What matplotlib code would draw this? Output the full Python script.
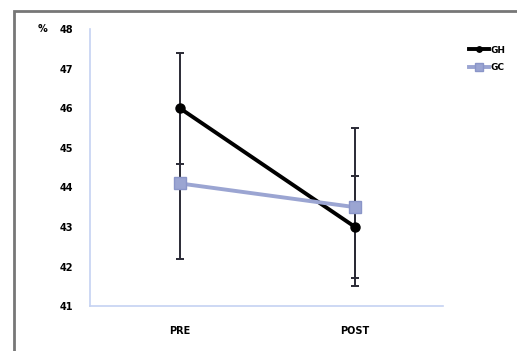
import matplotlib.pyplot as plt
from matplotlib.patches import Rectangle

# data
moments = ["PRE", "POST"]
gh_mean = [46.0, 43.0]
gh_sd = [1.4, 1.3]
gc_mean = [44.1, 43.5]
gc_sd = [1.9, 2.0]
y_ticks = [41, 42, 43, 44, 45, 46, 47, 48]

fig = plt.figure(figsize=(5.17, 3.51), dpi=100)
ax = fig.add_axes([0.174, 0.128, 0.683, 0.789])

x = list(range(len(moments)))

# error bars (dark, thin) under the lines
ax.errorbar(x, gc_mean, yerr=gc_sd, fmt="none", ecolor="#2a2a35",
            elinewidth=1.4, capsize=3, capthick=1.4, zorder=2)
ax.errorbar(x, gh_mean, yerr=gh_sd, fmt="none", ecolor="#2a2a35",
            elinewidth=1.4, capsize=3, capthick=1.4, zorder=2)

ax.plot(x, gh_mean, color="black", lw=2.8, marker="o", ms=6.5, label="GH", zorder=3)
ax.plot(x, gc_mean, color="#9ba5d2", lw=2.8, marker="s", ms=8.5,
        mec="#8a95c8", label="GC", zorder=4)

ax.set_xlim(-0.514, 1.503)
ax.set_ylim(41, 48)
ax.set_yticks(y_ticks)
ax.set_xticks(x)
ax.set_xticklabels(moments, fontsize=7, fontweight="bold")
ax.set_yticklabels([str(t) for t in y_ticks], fontsize=7, fontweight="bold")
ax.tick_params(length=0, pad=12)
ax.tick_params(axis="x", pad=14)

for s in ["top", "right"]:
    ax.spines[s].set_visible(False)
for s in ["left", "bottom"]:
    ax.spines[s].set_color("#c5d2f2")
    ax.spines[s].set_linewidth(1.2)

fig.text(0.073, 0.918, "%", fontsize=7, fontweight="bold", va="center")

leg = ax.legend(loc="upper left", bbox_to_anchor=(1.05, 0.97), frameon=False,
                fontsize=6.5, handlelength=2.2, labelspacing=0.9,
                handletextpad=0.2, markerscale=0.6)
for t in leg.get_texts():
    t.set_fontweight("bold")

# frame around the picture
fig.patches.append(Rectangle((0.027, -0.05), 1.2, 1.02, transform=fig.transFigure,
                             fill=False, edgecolor="#777777", lw=2))

fig.savefig("out.png", dpi=100)
